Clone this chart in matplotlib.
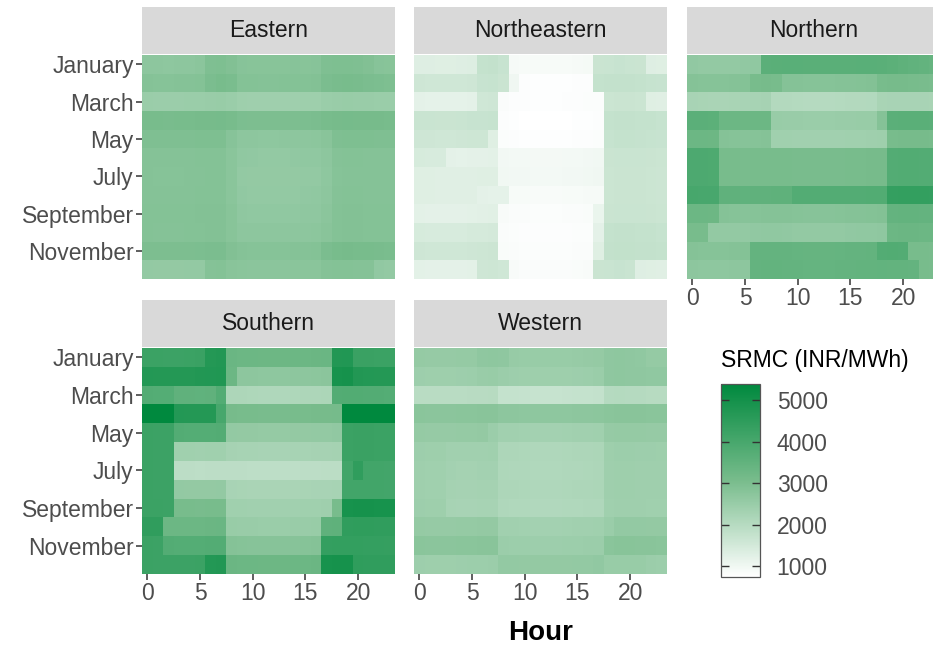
import numpy as np
import matplotlib
matplotlib.use("Agg")
import matplotlib.pyplot as plt
from matplotlib.colors import LinearSegmentedColormap, Normalize

plt.rcParams['font.family'] = ['Liberation Sans', 'DejaVu Sans']

months = ['January', 'February', 'March', 'April', 'May', 'June', 'July',
          'August', 'September', 'October', 'November', 'December']
hours = list(range(24))

# SRMC (INR/MWh), rows = months, columns = hours 0..23
eastern = [
    [2700, 2690, 2680, 2690, 2700, 2720, 2930, 2950, 2900, 2800, 2790, 2780, 2780, 2790, 2800, 2790, 2810, 2920, 2940, 2950, 2930, 2900, 2800, 2780],
    [2830, 2820, 2820, 2830, 2840, 2860, 3000, 3050, 3020, 2860, 2850, 2840, 2840, 2850, 2850, 2860, 2870, 3000, 3040, 3050, 3030, 3010, 2980, 2950],
    [2470, 2460, 2450, 2460, 2470, 2480, 2500, 2510, 2480, 2400, 2390, 2380, 2380, 2380, 2390, 2400, 2410, 2480, 2500, 2510, 2500, 2490, 2480, 2470],
    [3060, 3050, 3040, 3050, 3060, 3070, 3080, 3090, 3060, 2980, 2970, 2960, 2960, 2960, 2970, 2980, 3000, 3060, 3080, 3090, 3080, 3070, 3070, 3060],
    [2930, 2920, 2920, 2930, 2930, 2940, 2950, 2950, 2800, 2700, 2690, 2680, 2680, 2690, 2690, 2700, 2710, 2760, 2930, 2950, 2940, 2940, 2930, 2930],
    [2840, 2830, 2830, 2830, 2840, 2850, 2860, 2860, 2750, 2630, 2620, 2610, 2610, 2610, 2620, 2630, 2640, 2700, 2830, 2850, 2850, 2840, 2840, 2840],
    [2830, 2820, 2820, 2820, 2830, 2840, 2850, 2850, 2740, 2600, 2590, 2580, 2580, 2590, 2590, 2600, 2610, 2680, 2820, 2840, 2840, 2830, 2830, 2830],
    [2840, 2830, 2830, 2830, 2840, 2850, 2860, 2860, 2750, 2620, 2610, 2600, 2600, 2610, 2610, 2620, 2630, 2690, 2830, 2850, 2850, 2840, 2840, 2840],
    [2860, 2850, 2850, 2850, 2860, 2870, 2880, 2880, 2780, 2650, 2640, 2630, 2630, 2640, 2640, 2650, 2660, 2720, 2860, 2870, 2870, 2860, 2860, 2860],
    [2850, 2840, 2840, 2840, 2850, 2860, 2870, 2870, 2790, 2700, 2690, 2690, 2690, 2690, 2700, 2700, 2710, 2760, 2860, 2880, 2870, 2860, 2850, 2850],
    [2970, 2960, 2960, 2960, 2970, 2980, 3000, 3010, 2900, 2830, 2820, 2820, 2820, 2820, 2830, 2840, 2860, 3000, 3060, 3070, 3060, 3050, 3040, 3020],
    [2600, 2590, 2590, 2590, 2600, 2610, 2830, 2850, 2760, 2740, 2730, 2730, 2730, 2730, 2740, 2740, 2750, 2830, 2850, 2860, 2840, 2830, 2620, 2600],
]

northeastern = [
    [1320, 1310, 1300, 1300, 1310, 1330, 1740, 1760, 1700, 900, 880, 870, 870, 870, 880, 890, 920, 1660, 1680, 1690, 1680, 1650, 1320, 1300],
    [1580, 1570, 1560, 1560, 1570, 1590, 1700, 1720, 1650, 1000, 780, 770, 760, 760, 770, 780, 790, 1740, 1760, 1770, 1760, 1740, 1720, 1700],
    [1200, 1190, 1180, 1180, 1190, 1210, 1560, 1580, 820, 790, 780, 770, 770, 770, 780, 790, 800, 810, 1640, 1660, 1650, 1640, 1300, 1280],
    [1680, 1670, 1660, 1660, 1670, 1690, 1700, 1720, 780, 760, 750, 740, 740, 740, 750, 760, 770, 790, 1740, 1760, 1760, 1750, 1740, 1720],
    [1590, 1580, 1570, 1570, 1580, 1600, 1610, 1300, 800, 780, 770, 760, 760, 760, 770, 780, 790, 800, 1720, 1740, 1740, 1730, 1720, 1700],
    [1440, 1430, 1420, 1200, 1190, 1200, 1210, 1220, 960, 950, 940, 930, 930, 930, 940, 950, 960, 980, 1660, 1680, 1680, 1670, 1660, 1640],
    [1300, 1290, 1280, 1270, 1270, 1280, 1290, 1300, 990, 970, 960, 950, 950, 950, 960, 970, 980, 1000, 1640, 1660, 1660, 1650, 1640, 1620],
    [1300, 1290, 1280, 1270, 1270, 1280, 1200, 1190, 1180, 880, 870, 860, 860, 860, 870, 880, 890, 900, 1640, 1660, 1660, 1650, 1640, 1620],
    [1220, 1210, 1200, 1200, 1210, 1230, 1240, 1250, 850, 830, 820, 810, 810, 810, 820, 830, 840, 1100, 1660, 1680, 1680, 1670, 1660, 1640],
    [1440, 1430, 1420, 1420, 1430, 1450, 1460, 1470, 820, 800, 790, 780, 780, 780, 790, 800, 810, 1200, 1740, 1760, 1760, 1750, 1740, 1720],
    [1580, 1570, 1560, 1560, 1570, 1590, 1600, 1620, 840, 820, 810, 800, 800, 800, 810, 820, 830, 1300, 1760, 1780, 1780, 1770, 1760, 1740],
    [1220, 1210, 1200, 1200, 1210, 1230, 1580, 1600, 1560, 850, 830, 820, 820, 820, 830, 840, 860, 1660, 1680, 1690, 1680, 1320, 1300, 1280],
]

northern = [
    [2620, 2610, 2600, 2600, 2610, 2620, 2640, 3620, 3640, 3650, 3650, 3640, 3640, 3630, 3630, 3640, 3650, 3660, 3640, 3600, 3550, 3500, 3450, 3400],
    [2830, 2820, 2820, 2820, 2830, 2850, 3060, 3080, 3050, 2840, 2830, 2820, 2820, 2820, 2830, 2840, 2850, 2870, 3060, 3080, 3070, 3060, 3040, 3020],
    [2230, 2220, 2210, 2210, 2220, 2240, 2260, 2270, 2040, 2030, 2020, 2010, 2010, 2010, 2020, 2030, 2040, 2060, 2220, 2240, 2240, 2230, 2230, 2220],
    [3620, 3610, 3600, 3300, 3290, 3280, 3290, 3300, 2510, 2500, 2490, 2480, 2480, 2480, 2490, 2500, 2510, 2520, 2830, 3620, 3640, 3640, 3630, 3620],
    [3300, 3290, 3280, 2830, 2820, 2810, 2820, 2830, 2370, 2360, 2350, 2340, 2340, 2340, 2350, 2360, 2370, 2380, 2400, 3060, 3080, 3080, 3070, 3060],
    [3900, 3890, 3880, 3060, 3050, 3040, 3050, 3060, 3060, 3050, 3040, 3030, 3030, 3030, 3040, 3050, 3060, 3070, 3080, 3760, 3780, 3780, 3770, 3760],
    [3900, 3890, 3880, 3060, 3050, 3040, 3050, 3060, 3060, 3050, 3040, 3030, 3030, 3030, 3040, 3050, 3060, 3070, 3080, 3760, 3780, 3780, 3770, 3760],
    [4000, 3990, 3980, 3530, 3520, 3510, 3520, 3530, 3540, 3550, 3760, 3770, 3770, 3770, 3760, 3760, 3770, 3780, 3790, 4370, 4380, 4390, 4380, 4370],
    [3300, 3290, 3280, 2830, 2820, 2810, 2820, 2830, 2840, 2830, 2820, 2810, 2810, 2810, 2820, 2830, 2840, 2850, 2870, 3440, 3450, 3450, 3440, 3430],
    [3060, 3050, 2610, 2600, 2600, 2610, 2620, 2630, 2630, 2620, 2610, 2600, 2600, 2600, 2610, 2620, 2630, 2640, 2650, 3300, 3310, 3310, 3300, 3290],
    [2830, 2820, 2820, 2820, 2830, 2850, 3430, 3440, 3440, 3430, 3420, 3410, 3410, 3410, 3420, 3430, 3440, 3450, 3760, 3780, 3770, 3060, 3050, 3040],
    [2690, 2680, 2680, 2680, 2690, 2700, 3440, 3450, 3450, 3440, 3430, 3420, 3420, 3420, 3430, 3440, 3450, 3460, 3470, 3460, 3450, 3440, 3060, 3040],
]

southern = [
    [4240, 4230, 4220, 4220, 4230, 4250, 4680, 4700, 3320, 3300, 3290, 3280, 3280, 3280, 3290, 3300, 3310, 3330, 4700, 4720, 4260, 4250, 4240, 4230],
    [4690, 4680, 4670, 4670, 4680, 4700, 4720, 4740, 3300, 2700, 2690, 2680, 2680, 2680, 2690, 2700, 2710, 2730, 4930, 4950, 4700, 4690, 4680, 4670],
    [3760, 3750, 3740, 3530, 3520, 3510, 3520, 3760, 2150, 2140, 2130, 2120, 2120, 2120, 2130, 2140, 2150, 2170, 3760, 3780, 3780, 3770, 3760, 3750],
    [5380, 5370, 5360, 4690, 4680, 4670, 4680, 4000, 3070, 3060, 3050, 3040, 3040, 3040, 3050, 3060, 3070, 3080, 3090, 5390, 5390, 5380, 5370, 5360],
    [4230, 4220, 4210, 3760, 3750, 3740, 3750, 3760, 2600, 2590, 2580, 2570, 2570, 2570, 2580, 2590, 2600, 2610, 2620, 4230, 4250, 4250, 4240, 4230],
    [4230, 4220, 4210, 2370, 2360, 2350, 2360, 2370, 2270, 2260, 2250, 2240, 2240, 2240, 2250, 2260, 2270, 2280, 2290, 4230, 4250, 4250, 4240, 4230],
    [4230, 4220, 4210, 1900, 1890, 1880, 1890, 1900, 1900, 1890, 1880, 1870, 1870, 1870, 1880, 1890, 1900, 1910, 1920, 4090, 4460, 4100, 4090, 4080],
    [4230, 4220, 4210, 2600, 2590, 2580, 2590, 2600, 2230, 2220, 2210, 2200, 2200, 2200, 2210, 2220, 2230, 2240, 2250, 4090, 4100, 4100, 4090, 4080],
    [4240, 4230, 4220, 3060, 3050, 3040, 3050, 3060, 2370, 2360, 2350, 2340, 2340, 2340, 2350, 2360, 2370, 2380, 3060, 4930, 4950, 4940, 4930, 4920],
    [4460, 4450, 3300, 3290, 3290, 3300, 3310, 3320, 2510, 2500, 2490, 2480, 2480, 2480, 2490, 2500, 2510, 3530, 3540, 4460, 4470, 4470, 4460, 4450],
    [4230, 4220, 3760, 3750, 3740, 3750, 3760, 3770, 2830, 2820, 2810, 2800, 2800, 2800, 2810, 2820, 2830, 4370, 4380, 4390, 4380, 4370, 4360, 4350],
    [4230, 4220, 4210, 4210, 4220, 4240, 4690, 4700, 3310, 3300, 3290, 3280, 3280, 3280, 3290, 3300, 3310, 4930, 4950, 4940, 4470, 4460, 4450, 4440],
]

western = [
    [2560, 2550, 2550, 2550, 2560, 2570, 2650, 2670, 2650, 2530, 2520, 2510, 2510, 2510, 2520, 2530, 2540, 2570, 2650, 2670, 2660, 2640, 2570, 2560],
    [2420, 2410, 2410, 2410, 2420, 2430, 2500, 2510, 2450, 2420, 2410, 2400, 2400, 2400, 2410, 2420, 2430, 2470, 2650, 2670, 2660, 2650, 2640, 2630],
    [1950, 1940, 1940, 1940, 1950, 1960, 1970, 1980, 1750, 1740, 1730, 1720, 1720, 1720, 1730, 1740, 1750, 1760, 2000, 2020, 2010, 2000, 1990, 1980],
    [2740, 2730, 2730, 2730, 2740, 2750, 2760, 2770, 2700, 2690, 2680, 2670, 2670, 2670, 2680, 2690, 2700, 2710, 2750, 2770, 2770, 2760, 2750, 2740],
    [2560, 2550, 2550, 2550, 2560, 2570, 2580, 2450, 2350, 2340, 2330, 2320, 2320, 2320, 2330, 2340, 2350, 2360, 2550, 2570, 2570, 2560, 2550, 2550],
    [2420, 2410, 2410, 2350, 2340, 2340, 2350, 2360, 2150, 2140, 2130, 2120, 2120, 2120, 2130, 2140, 2150, 2160, 2410, 2430, 2430, 2420, 2420, 2410],
    [2380, 2370, 2370, 2310, 2300, 2300, 2310, 2320, 2130, 2120, 2110, 2100, 2100, 2100, 2110, 2120, 2130, 2140, 2380, 2400, 2400, 2390, 2390, 2380],
    [2380, 2370, 2370, 2290, 2280, 2280, 2290, 2300, 2150, 2140, 2130, 2120, 2120, 2120, 2130, 2140, 2150, 2160, 2380, 2400, 2400, 2390, 2390, 2380],
    [2420, 2410, 2410, 2250, 2240, 2240, 2250, 2260, 2110, 2100, 2090, 2080, 2080, 2080, 2090, 2100, 2110, 2120, 2370, 2390, 2390, 2380, 2370, 2370],
    [2560, 2550, 2550, 2550, 2560, 2570, 2580, 2590, 2350, 2340, 2330, 2320, 2320, 2320, 2330, 2340, 2350, 2360, 2470, 2610, 2610, 2600, 2590, 2580],
    [2740, 2730, 2730, 2730, 2740, 2750, 2760, 2770, 2450, 2440, 2430, 2420, 2420, 2420, 2430, 2440, 2450, 2460, 2750, 2780, 2780, 2770, 2760, 2750],
    [2420, 2410, 2410, 2410, 2420, 2430, 2440, 2450, 2610, 2600, 2590, 2580, 2580, 2580, 2590, 2600, 2610, 2620, 2510, 2520, 2520, 2510, 2450, 2430],
]

regions = ['Eastern', 'Northeastern', 'Northern', 'Southern', 'Western']
values = [eastern, northeastern, northern, southern, western]

# white -> green, mid stop picked to match the original's tones
cmap = LinearSegmentedColormap.from_list(
    'srmc', [(0.0, '#FFFFFF'), (0.5, '#78BC8C'), (1.0, '#00893E')])
vmin = min(np.min(v) for v in values)
vmax = max(np.max(v) for v in values)
norm = Normalize(vmin, vmax)

W, H = 933, 645
fig = plt.figure(figsize=(W / 100, H / 100), dpi=100)

col_x = [142, 414, 687]
pw = 253
rows_y = [(55, 279), (348, 574)]
strip_h = 47
pos = [(0, 0), (0, 1), (0, 2), (1, 0), (1, 1)]

tick_kw = dict(length=4, width=1.1, color='#333333', labelcolor='#4D4D4D',
               labelsize=16.5, pad=2)

for name, data, (r, c) in zip(regions, values, pos):
    y0, y1 = rows_y[r]
    x0 = col_x[c]
    ax = fig.add_axes([x0 / W, 1 - y1 / H, pw / W, (y1 - y0) / H])
    im = ax.imshow(np.array(data), cmap=cmap, norm=norm, aspect='auto',
                   interpolation='nearest', extent=(-0.5, 23.5, 12.5, 0.5))
    ax.set_xlim(-0.5, 23.5)
    ax.set_ylim(12.5, 0.5)
    for s in ax.spines.values():
        s.set_visible(False)
    ax.tick_params(**tick_kw)
    if r == 1 or name == 'Northern':
        ax.set_xticks([0, 5, 10, 15, 20])
    else:
        ax.set_xticks([])
    if c == 0:
        ax.set_yticks([1, 3, 5, 7, 9, 11])
        ax.set_yticklabels(months[::2])
    else:
        ax.set_yticks([])

    sax = fig.add_axes([x0 / W, 1 - (y0 - 1) / H, pw / W, strip_h / H])
    sax.set_facecolor('#D9D9D9')
    sax.set_xticks([])
    sax.set_yticks([])
    for s in sax.spines.values():
        s.set_visible(False)
    sax.text(0.5, 0.5, name, ha='center', va='center', fontsize=16.5,
             color='#1A1A1A', transform=sax.transAxes)

fig.text(541 / W, 1 - 633 / H, 'Hour', ha='center', va='center',
         fontsize=20, fontweight='bold', color='black')

cax = fig.add_axes([721 / W, 1 - 577 / H, 39 / W, 193 / H])
cb = fig.colorbar(im, cax=cax, ticks=[1000, 2000, 3000, 4000, 5000])
cb.outline.set_edgecolor('#555555')
cb.outline.set_linewidth(0.9)
cax.tick_params(direction='in', left=True, right=True, labelleft=False,
                labelright=True, length=6, width=1, color='#333333',
                labelcolor='#4D4D4D', labelsize=16.5, pad=12)
fig.text(721 / W, 1 - 360 / H, 'SRMC (INR/MWh)', ha='left', va='center',
         fontsize=16.5, color='black')

fig.savefig('out.png', dpi=100)
